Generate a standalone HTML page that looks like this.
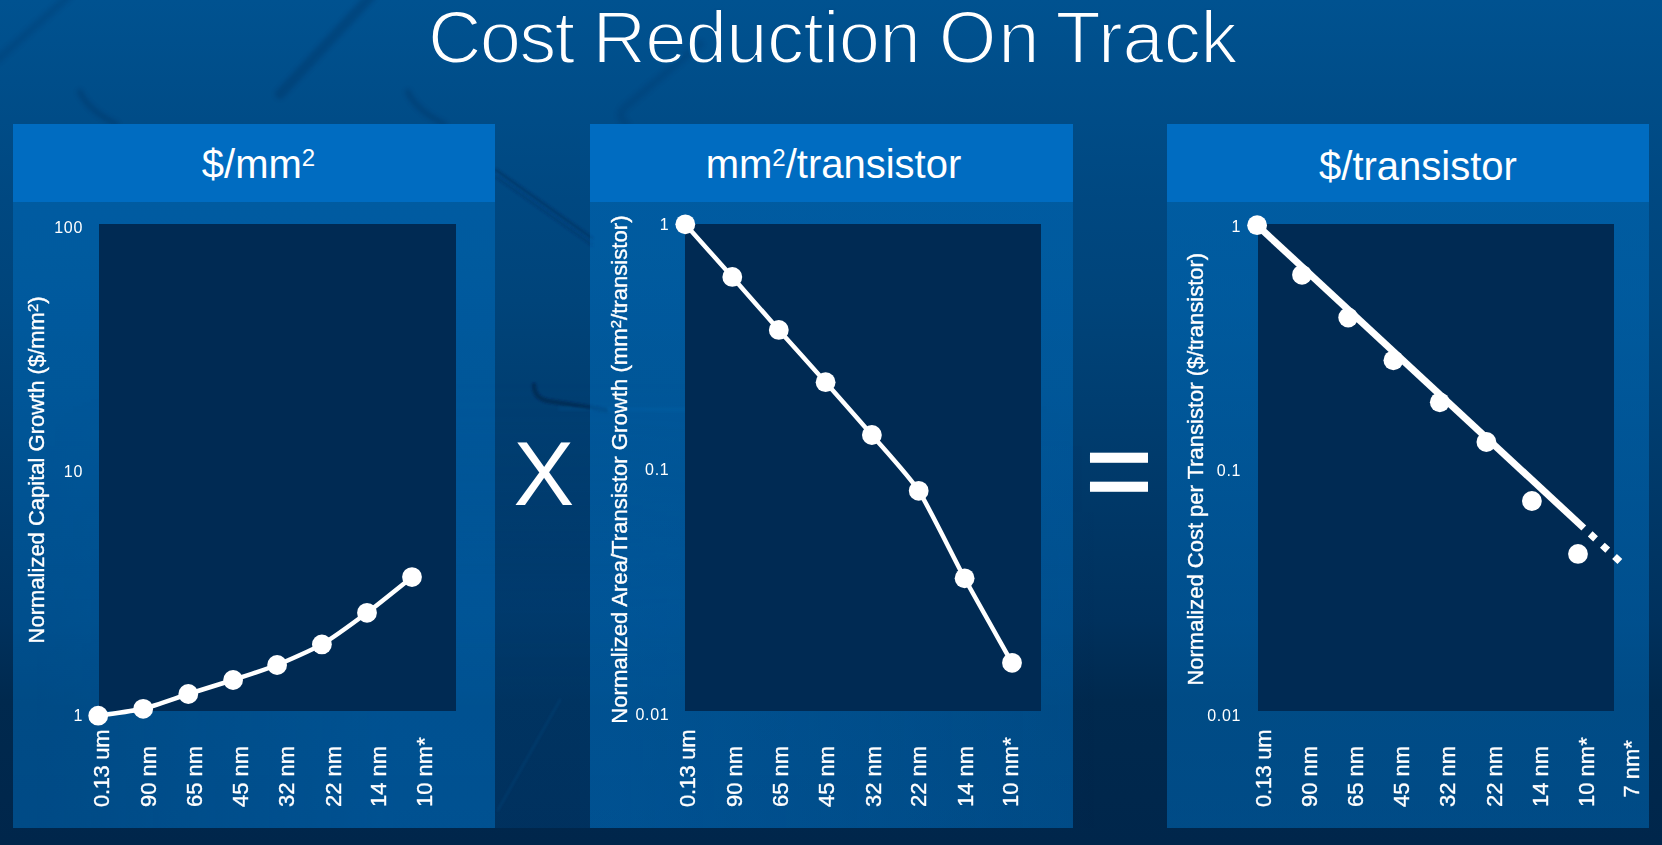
<!DOCTYPE html>
<html lang="en">
<head>
<meta charset="utf-8">
<title>Cost Reduction On Track</title>
<style>
  html, body { margin: 0; padding: 0; }
  body {
    width: 1662px; height: 845px; overflow: hidden; position: relative;
    font-family: "Liberation Sans", sans-serif; color: #fff;
    background: #003a70;
  }
  #bg { position: absolute; left: 0; top: 0; width: 1662px; height: 845px; }
  .title {
    position: absolute; left: 0; top: -2.5px; width: 1662px; height: 80px;
    font-size: 74.2px; line-height: 80px; white-space: nowrap;
    -webkit-text-stroke: 2px #00508e;
  }
  .title span { position: absolute; top: 0; }
  .panel { position: absolute; top: 124px; height: 704px; background: linear-gradient(to bottom, rgba(0,126,216,0.365) 0%, rgba(0,126,216,0.39) 60%, rgba(0,126,216,0.42) 100%); }
  .panel .hd {
    position: absolute; left: 0; top: 0; width: 100%; height: 78px;
    background: #006cc1; text-align: center; font-size: 40px; line-height: 78px; white-space: nowrap;
  }
  .panel .hd sup { font-size: 60%; line-height: 0; vertical-align: baseline; position: relative; top: -0.5em; }
  .plot { position: absolute; top: 224px; height: 486.5px; width: 357px; background: #002a53; }
  .op { position: absolute; font-size: 88px; line-height: 100px; white-space: nowrap; }
  #charts { position: absolute; left: 0; top: 0; width: 1662px; height: 845px; }
  #charts text { font-family: "Liberation Sans", sans-serif; fill: #fff; }
  .tick { font-size: 16px; text-anchor: end; letter-spacing: 0.7px; }
  .cat { font-size: 22px; stroke: #fff; stroke-width: 0.35px; }
  .ayt { font-size: 22px; stroke: #fff; stroke-width: 0.35px; }
</style>
</head>
<body>
<svg id="bg" viewBox="0 0 1662 845" preserveAspectRatio="none">
  <defs>
    <linearGradient id="gv" x1="0" y1="0" x2="0" y2="1">
      <stop offset="0" stop-color="#005290"/>
      <stop offset="0.237" stop-color="#004881"/>
      <stop offset="0.355" stop-color="#00447a"/>
      <stop offset="0.734" stop-color="#00315d"/>
      <stop offset="0.83" stop-color="#00294e"/>
      <stop offset="1" stop-color="#00264b"/>
    </linearGradient>
    <filter id="bl" x="-5%" y="-5%" width="110%" height="110%"><feGaussianBlur stdDeviation="2.2"/></filter>
    <filter id="bl2" x="-5%" y="-5%" width="110%" height="110%"><feGaussianBlur stdDeviation="1"/></filter>
    <linearGradient id="gl" x1="0" y1="0" x2="1" y2="0">
      <stop offset="0" stop-color="#006ec8" stop-opacity="0"/>
      <stop offset="0.03" stop-color="#006ec8" stop-opacity="0"/>
      <stop offset="0.36" stop-color="#006ec8" stop-opacity="0.16"/>
      <stop offset="0.56" stop-color="#006ec8" stop-opacity="0.16"/>
      <stop offset="1" stop-color="#006ec8" stop-opacity="0"/>
    </linearGradient>
    <linearGradient id="gm" x1="0" y1="0" x2="0" y2="1">
      <stop offset="0" stop-color="#fff" stop-opacity="0"/>
      <stop offset="0.5" stop-color="#fff" stop-opacity="0.85"/>
      <stop offset="0.7" stop-color="#fff" stop-opacity="1"/>
      <stop offset="1" stop-color="#fff" stop-opacity="1"/>
    </linearGradient>
    <mask id="mk" maskUnits="userSpaceOnUse" x="0" y="380" width="1100" height="448">
      <rect x="0" y="380" width="1100" height="448" fill="url(#gm)"/>
    </mask>
  </defs>
  <rect x="0" y="0" width="1662" height="845" fill="url(#gv)"/>
  <rect x="0" y="380" width="1100" height="448" fill="url(#gl)" mask="url(#mk)"/>
  <g fill="none" stroke="#002f5c" stroke-linecap="round" opacity="0.3" filter="url(#bl)">
    <path d="M372 -5 L280 94" stroke-width="10"/>
    <path d="M70 -5 L-5 62" stroke-width="8" opacity="0.6"/>
    <path d="M80 92 Q88 110 116 124" stroke-width="6"/>
    <path d="M408 92 Q416 110 444 124" stroke-width="6"/>
    <path d="M700 44 L624 108 Q617 116 626 124" stroke-width="8" opacity="0.6"/>
  </g>
  <g fill="none" stroke-linecap="round" filter="url(#bl2)">
    <path d="M496 170 L592 238" stroke="#002c58" stroke-width="3" opacity="0.45"/>
    <path d="M496 177 L592 245" stroke="#002c58" stroke-width="2.5" opacity="0.3"/>
    <path d="M534 385 Q534 398 548 401 L606 410" stroke="#001f44" stroke-width="4.5" opacity="0.55"/>
    <path d="M560 409 L800 410" stroke="#2a86d8" stroke-width="4" opacity="0.08"/>
    <path d="M498 810 L560 700" stroke="#2a86d8" stroke-width="3" opacity="0.08"/>
  </g>
</svg>

<div class="title"><span style="left:428px;letter-spacing:-1.8px">Cost</span> <span style="left:592.5px;letter-spacing:-0.74px">Reduction</span> <span style="left:938.7px;letter-spacing:1.8px">On</span> <span style="left:1055.6px;letter-spacing:-0.15px">Track</span></div>

<div class="panel" style="left:13px;width:482px"><div class="hd"><span style="position:relative;left:4.5px;top:1.4px">$/mm<sup>2</sup></span></div></div>
<div class="panel" style="left:590px;width:483px"><div class="hd"><span style="position:relative;left:2px;top:1px">mm<sup>2</sup>/transistor</span></div></div>
<div class="panel" style="left:1167px;width:482px"><div class="hd"><span style="position:relative;left:10px;top:3px">$/transistor</span></div></div>

<div class="plot" style="left:99px"></div>
<div class="plot" style="left:685px;width:356px"></div>
<div class="plot" style="left:1258px;width:356px"></div>

<div class="op" style="left:513.5px;top:424px;font-size:91px">X</div>
<div class="op" style="left:1085px;top:401px;font-size:116.5px;line-height:140px;-webkit-text-stroke:1.4px #fff;transform:scaleX(1.0);transform-origin:50% 50%">=</div>

<svg id="charts" viewBox="0 0 1662 845">
  <!-- chart 1 -->
  <g fill="#fff" stroke="none">
    <path fill="none" stroke="#fff" stroke-width="4.5" stroke-linejoin="round" d="M98.2 715.7 C102.7 715.0 134.2 711.0 143.2 708.8 C152.2 706.6 179.3 696.9 188.3 694.0 C197.3 691.1 224.2 682.9 233.1 680.0 C242.0 677.1 268.2 668.6 277.1 665.0 C286.0 661.4 312.9 649.6 321.9 644.4 C330.9 639.2 358.0 619.5 367.0 612.8 C376.0 606.1 407.5 580.7 412.0 577.1"/>
    <circle cx="98.2" cy="715.7" r="9.9"/><circle cx="143.2" cy="708.8" r="9.9"/>
    <circle cx="188.3" cy="694" r="9.9"/><circle cx="233.1" cy="680" r="9.9"/>
    <circle cx="277.1" cy="665" r="9.9"/><circle cx="321.9" cy="644.4" r="9.9"/>
    <circle cx="367" cy="612.8" r="9.9"/><circle cx="412" cy="577.1" r="9.9"/>
  </g>
  <text class="tick" x="83" y="233.4">100</text>
  <text class="tick" x="83" y="477">10</text>
  <text class="tick" x="83" y="721">1</text>
  <text class="ayt" transform="translate(44 643.4) rotate(-90)">Normalized Capital Growth ($/mm<tspan dy="-6.5" font-size="15">2</tspan><tspan dy="6.5">)</tspan></text>
  <g class="cat">
    <text transform="translate(109.3 807) rotate(-90)" letter-spacing="-0.33">0.13 um</text>
    <text transform="translate(155.5 807) rotate(-90)">90 nm</text>
    <text transform="translate(201.6 807) rotate(-90)">65 nm</text>
    <text transform="translate(248.1 807) rotate(-90)">45 nm</text>
    <text transform="translate(294.2 807) rotate(-90)">32 nm</text>
    <text transform="translate(340.7 807) rotate(-90)">22 nm</text>
    <text transform="translate(386.4 807) rotate(-90)">14 nm</text>
    <text transform="translate(432.1 807) rotate(-90)">10 nm*</text>
  </g>

  <!-- chart 2 -->
  <g fill="#fff" stroke="none">
    <path fill="none" stroke="#fff" stroke-width="4.5" stroke-linejoin="round" d="M685.3 224.3 C690.0 229.6 722.9 266.3 732.3 276.9 C741.6 287.5 769.5 319.4 778.8 329.9 C788.1 340.4 816.3 371.7 825.6 382.2 C834.9 392.7 862.6 424.1 871.9 435.0 C881.2 445.9 909.4 476.5 918.7 490.8 C928.0 505.1 955.3 561.1 964.6 578.3 C973.9 595.5 1007.3 654.3 1012.0 662.8"/>
    <circle cx="685.3" cy="224.3" r="9.9"/><circle cx="732.3" cy="276.9" r="9.9"/>
    <circle cx="778.8" cy="329.9" r="9.9"/><circle cx="825.6" cy="382.2" r="9.9"/>
    <circle cx="871.9" cy="435" r="9.9"/><circle cx="918.7" cy="490.8" r="9.9"/>
    <circle cx="964.6" cy="578.3" r="9.9"/><circle cx="1012" cy="662.8" r="9.9"/>
  </g>
  <text class="tick" x="669.4" y="230.4">1</text>
  <text class="tick" x="669.4" y="475">0.1</text>
  <text class="tick" x="669.4" y="720">0.01</text>
  <text class="ayt" style="font-size:22.15px" transform="translate(627 723.7) rotate(-90)">Normalized Area/Transistor Growth (mm<tspan dy="-6.5" font-size="15">2</tspan><tspan dy="6.5">/transistor)</tspan></text>
  <g class="cat">
    <text transform="translate(695.4 807) rotate(-90)" letter-spacing="-0.33">0.13 um</text>
    <text transform="translate(741.6 807) rotate(-90)">90 nm</text>
    <text transform="translate(788 807) rotate(-90)">65 nm</text>
    <text transform="translate(834.2 807) rotate(-90)">45 nm</text>
    <text transform="translate(880.6 807) rotate(-90)">32 nm</text>
    <text transform="translate(926.4 807) rotate(-90)">22 nm</text>
    <text transform="translate(972.5 807) rotate(-90)">14 nm</text>
    <text transform="translate(1018.3 807) rotate(-90)">10 nm*</text>
  </g>

  <!-- chart 3 -->
  <g fill="#fff" stroke="none">
    <line x1="1257.1" y1="225.2" x2="1583.8" y2="528" stroke="#fff" stroke-width="7"/>
    <line x1="1590.2" y1="533.9" x2="1623.5" y2="564.8" stroke="#fff" stroke-width="7" stroke-dasharray="7.3 9.3" stroke-dashoffset="0"/>
    <circle cx="1257.1" cy="225.2" r="9.9"/><circle cx="1302" cy="274.8" r="9.9"/>
    <circle cx="1348.2" cy="317.5" r="9.9"/><circle cx="1393.4" cy="360.3" r="9.9"/>
    <circle cx="1439.8" cy="402.3" r="9.9"/><circle cx="1486.4" cy="442" r="9.9"/>
    <circle cx="1531.9" cy="501" r="9.9"/><circle cx="1578" cy="553.9" r="9.9"/>
  </g>
  <text class="tick" x="1241.2" y="232">1</text>
  <text class="tick" x="1241.2" y="475.7">0.1</text>
  <text class="tick" x="1241.2" y="720.7">0.01</text>
  <text class="ayt" transform="translate(1202.8 685.6) rotate(-90)">Normalized Cost per Transistor ($/transistor)</text>
  <g class="cat">
    <text transform="translate(1270.6 807) rotate(-90)" letter-spacing="-0.33">0.13 um</text>
    <text transform="translate(1316.7 807) rotate(-90)">90 nm</text>
    <text transform="translate(1363.2 807) rotate(-90)">65 nm</text>
    <text transform="translate(1409.3 807) rotate(-90)">45 nm</text>
    <text transform="translate(1455.1 807) rotate(-90)">32 nm</text>
    <text transform="translate(1501.7 807) rotate(-90)">22 nm</text>
    <text transform="translate(1547.7 807) rotate(-90)">14 nm</text>
    <text transform="translate(1594 807) rotate(-90)">10 nm*</text>
    <text transform="translate(1638.8 797.6) rotate(-90)">7 nm*</text>
  </g>
</svg>
</body>
</html>
